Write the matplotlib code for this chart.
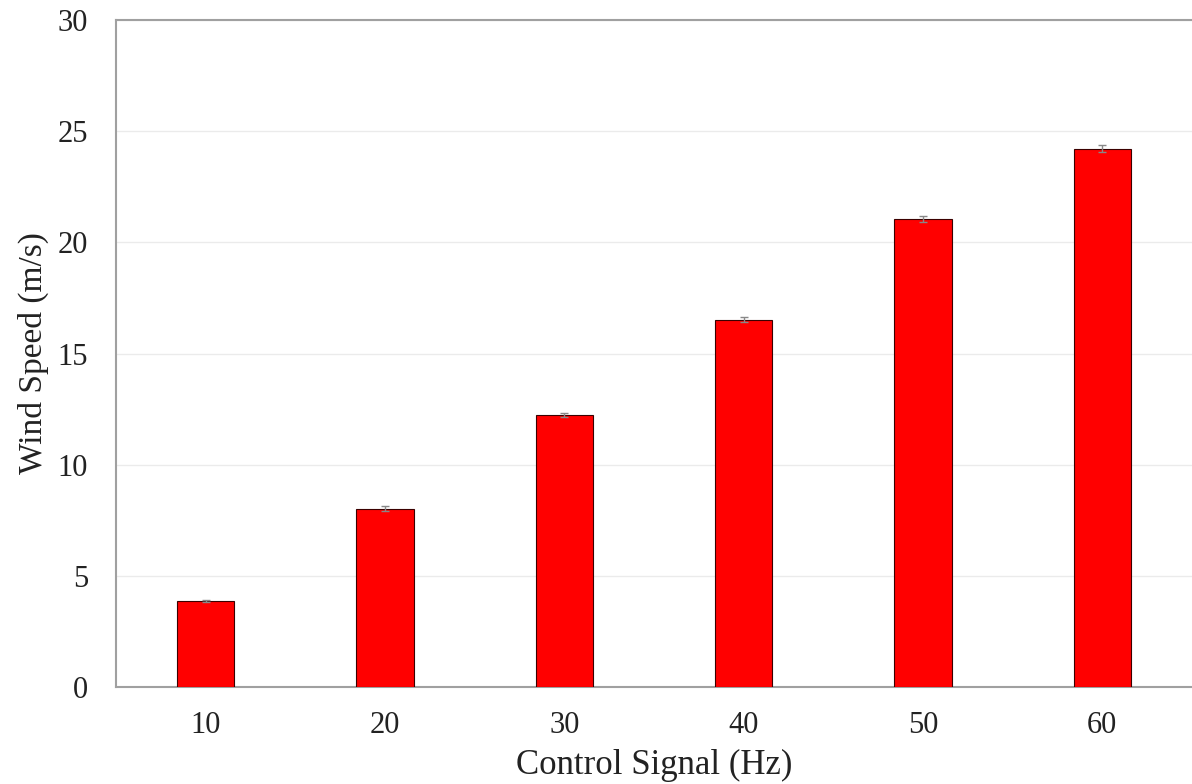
import numpy as np
import matplotlib.pyplot as plt

plt.rcParams['font.family'] = ['Liberation Serif', 'DejaVu Serif']

signals = ["10", "20", "30", "40", "50", "60"]
speeds = [3.87, 8.02, 12.24, 16.52, 21.06, 24.22]
errors = [0.06, 0.1, 0.1, 0.12, 0.14, 0.16]

fig = plt.figure(figsize=(11.92, 7.84), dpi=100)
ax = fig.add_axes([0.0973, 0.1237, 0.9027, 0.8508])

x = np.arange(len(signals))
ax.bar(x, speeds, width=0.32, color="#ff0000", edgecolor="#3a0000", linewidth=0.8,
       yerr=errors, error_kw=dict(ecolor="#888888", elinewidth=1, capsize=3, capthick=1),
       zorder=3)

ax.set_xlim(-0.5, 5.5)
ax.set_ylim(0, 30)
ax.set_xticks(x)
ax.set_xticklabels(signals)
ax.set_yticks(range(0, 31, 5))
ax.yaxis.grid(True, color="#ebebeb", linewidth=1, zorder=0)
ax.tick_params(axis="both", length=0, labelsize=22, colors="#222222")
ax.tick_params(axis="x", pad=17)
ax.tick_params(axis="y", pad=20)

for side in ["left", "bottom", "top"]:
    ax.spines[side].set_color("#a0a0a0")
    ax.spines[side].set_linewidth(1.5)
ax.spines["right"].set_visible(False)

ax.set_xlabel("Control Signal (Hz)", fontsize=25, color="#222222", labelpad=7)
ax.set_ylabel("Wind Speed (m/s)", fontsize=24, color="#222222", labelpad=6)

fig.savefig("out.png", dpi=100)
